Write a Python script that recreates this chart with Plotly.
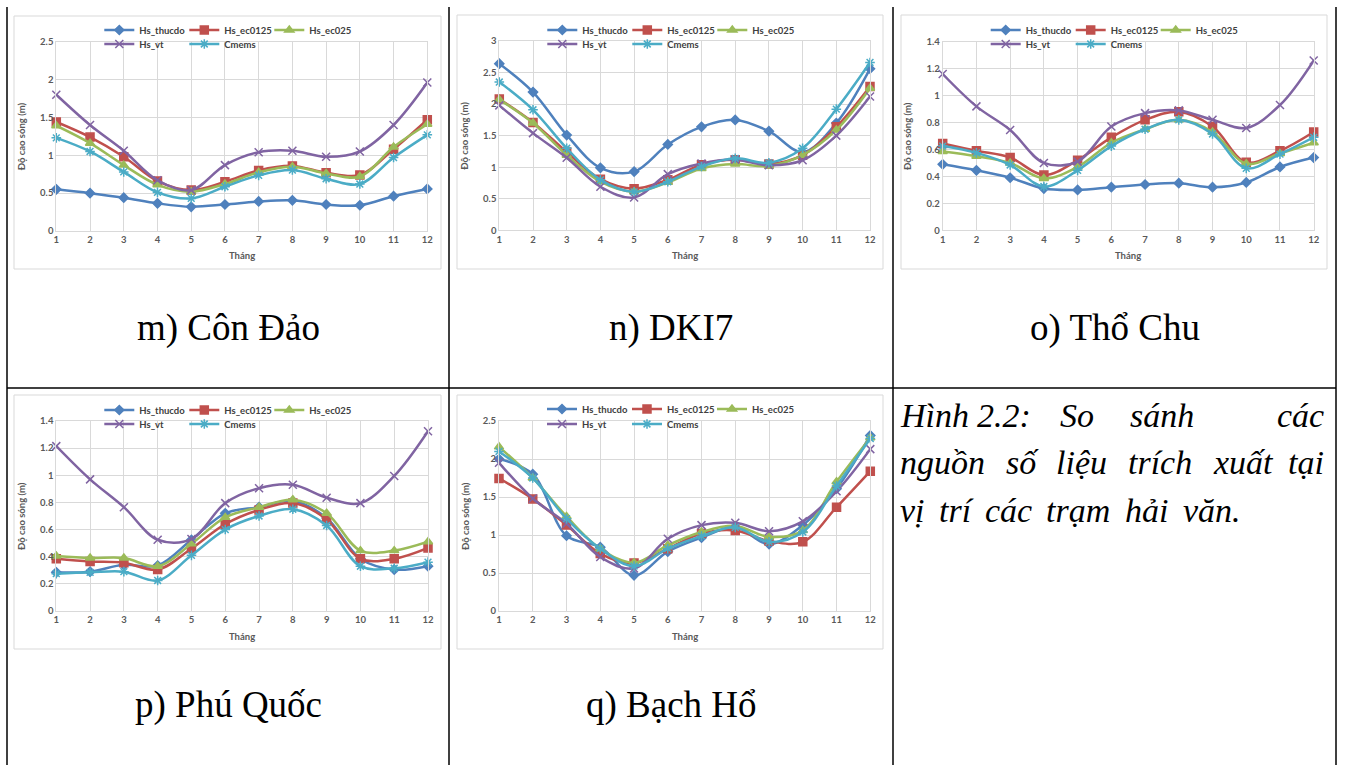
import plotly.graph_objects as go

W, H = 1345, 765

months = list(range(1, 13))
series_names = ["Hs_thucdo", "Hs_ec0125", "Hs_ec025", "Hs_vt", "Cmems"]

# m) Côn Đảo
con_dao_thucdo = [0.55, 0.50, 0.44, 0.365, 0.32, 0.35, 0.39, 0.405, 0.35, 0.34, 0.46, 0.555]
con_dao_ec0125 = [1.44, 1.24, 0.98, 0.66, 0.54, 0.65, 0.80, 0.86, 0.77, 0.74, 1.08, 1.47]
con_dao_ec025 = [1.39, 1.16, 0.87, 0.61, 0.52, 0.62, 0.775, 0.85, 0.76, 0.72, 1.11, 1.41]
con_dao_vt = [1.80, 1.40, 1.06, 0.67, 0.54, 0.87, 1.04, 1.06, 0.98, 1.05, 1.40, 1.96]
con_dao_cmems = [1.23, 1.05, 0.78, 0.51, 0.43, 0.585, 0.735, 0.805, 0.69, 0.62, 0.97, 1.27]

# n) DKI7
dki7_thucdo = [2.64, 2.19, 1.51, 0.99, 0.93, 1.36, 1.64, 1.75, 1.57, 1.24, 1.70, 2.56]
dki7_ec0125 = [2.08, 1.71, 1.24, 0.81, 0.66, 0.80, 1.04, 1.12, 1.05, 1.19, 1.64, 2.28]
dki7_ec025 = [2.07, 1.70, 1.19, 0.77, 0.61, 0.76, 0.98, 1.05, 1.02, 1.19, 1.59, 2.25]
dki7_vt = [1.98, 1.54, 1.15, 0.69, 0.52, 0.89, 1.06, 1.12, 1.03, 1.11, 1.50, 2.12]
dki7_cmems = [2.35, 1.91, 1.30, 0.80, 0.61, 0.77, 1.01, 1.14, 1.07, 1.30, 1.92, 2.66]

# o) Thổ Chu
tho_chu_thucdo = [0.49, 0.445, 0.39, 0.31, 0.30, 0.32, 0.34, 0.35, 0.32, 0.355, 0.47, 0.54]
tho_chu_ec0125 = [0.645, 0.59, 0.54, 0.41, 0.52, 0.69, 0.82, 0.88, 0.77, 0.505, 0.59, 0.73]
tho_chu_ec025 = [0.585, 0.55, 0.50, 0.385, 0.47, 0.65, 0.75, 0.82, 0.73, 0.495, 0.57, 0.65]
tho_chu_vt = [1.16, 0.92, 0.745, 0.50, 0.51, 0.77, 0.87, 0.89, 0.82, 0.76, 0.93, 1.26]
tho_chu_cmems = [0.625, 0.575, 0.485, 0.325, 0.445, 0.625, 0.75, 0.82, 0.715, 0.46, 0.565, 0.69]

# p) Phú Quốc
phu_quoc_thucdo = [0.285, 0.29, 0.34, 0.335, 0.525, 0.72, 0.765, 0.81, 0.685, 0.385, 0.305, 0.33]
phu_quoc_ec0125 = [0.385, 0.365, 0.355, 0.305, 0.46, 0.64, 0.745, 0.795, 0.675, 0.385, 0.385, 0.465]
phu_quoc_ec025 = [0.405, 0.39, 0.39, 0.33, 0.495, 0.69, 0.765, 0.82, 0.72, 0.445, 0.445, 0.51]
phu_quoc_vt = [1.215, 0.97, 0.765, 0.525, 0.53, 0.795, 0.905, 0.93, 0.835, 0.795, 0.995, 1.325]
phu_quoc_cmems = [0.275, 0.285, 0.29, 0.225, 0.41, 0.60, 0.70, 0.75, 0.63, 0.33, 0.315, 0.36]

# q) Bạch Hổ
bach_ho_thucdo = [2.00, 1.80, 0.99, 0.84, 0.47, 0.78, 0.965, 1.105, 0.88, 1.13, 1.61, 2.31]
bach_ho_ec0125 = [1.745, 1.475, 1.13, 0.755, 0.63, 0.82, 1.02, 1.06, 0.92, 0.91, 1.365, 1.84]
bach_ho_ec025 = [2.16, 1.75, 1.245, 0.82, 0.635, 0.865, 1.04, 1.12, 0.975, 1.06, 1.70, 2.28]
bach_ho_vt = [1.95, 1.48, 1.15, 0.71, 0.56, 0.95, 1.13, 1.16, 1.05, 1.18, 1.575, 2.13]
bach_ho_cmems = [2.10, 1.75, 1.215, 0.82, 0.59, 0.82, 0.985, 1.10, 0.91, 1.04, 1.645, 2.27]

captions = ["m) Côn Đảo", "n) DKI7", "o) Thổ Chu", "p) Phú Quốc", "q) Bạch Hổ"]
y_title = "Độ cao sóng (m)"
x_title = "Tháng"
figure_caption_lines = [
    ["Hình", "2.2:", "So", "sánh", "các"],
    ["nguồn", "số", "liệu", "trích", "xuất", "tại"],
    ["vị", "trí", "các", "trạm", "hải", "văn."],
]

station_data = [
    [con_dao_thucdo, con_dao_ec0125, con_dao_ec025, con_dao_vt, con_dao_cmems],
    [dki7_thucdo, dki7_ec0125, dki7_ec025, dki7_vt, dki7_cmems],
    [tho_chu_thucdo, tho_chu_ec0125, tho_chu_ec025, tho_chu_vt, tho_chu_cmems],
    [phu_quoc_thucdo, phu_quoc_ec0125, phu_quoc_ec025, phu_quoc_vt, phu_quoc_cmems],
    [bach_ho_thucdo, bach_ho_ec0125, bach_ho_ec025, bach_ho_vt, bach_ho_cmems],
]

# ---------------- styling / geometry (pixels) ----------------
styles = {
    "Hs_thucdo": dict(color="#4F81BD", symbol="diamond", size=7),
    "Hs_ec0125": dict(color="#C0504D", symbol="square", size=8),
    "Hs_ec025": dict(color="#9BBB59", symbol="triangle-up", size=8),
    "Hs_vt": dict(color="#8064A2", symbol="x-thin-open", size=8),
    "Cmems": dict(color="#4BACC6", symbol="asterisk-open", size=8),
}

panels = [
    dict(plot=(56.3, 41.7, 427.3, 231.0), frame=(14, 16, 441, 269), ymax=2.5, dtick=0.5,
         ytx=21, leg=(30, 44), cap=(228, 328)),
    dict(plot=(499.3, 41.0, 870.0, 230.3), frame=(457, 15, 883, 269), ymax=3.0, dtick=0.5,
         ytx=465, leg=(30, 44), cap=(671, 328)),
    dict(plot=(942.7, 41.7, 1313.7, 230.3), frame=(901, 15, 1327, 269), ymax=1.4, dtick=0.2,
         ytx=907, leg=(30, 44), cap=(1114.5, 328)),
    dict(plot=(56.3, 421.0, 428.0, 611.0), frame=(14, 395, 441, 649), ymax=1.4, dtick=0.2,
         ytx=21, leg=(410, 424), cap=(228, 705)),
    dict(plot=(499.0, 421.0, 870.3, 611.0), frame=(457, 395, 883, 649), ymax=2.5, dtick=0.5,
         ytx=465, leg=(409, 424), cap=(671, 705)),
]


def fx(px):
    return px / W


def fy(py):
    return 1 - py / H


SMALL = dict(family="Lato, Open Sans, sans-serif", size=9.5, color="#595959", weight="bold")
GRID = "#D9D9D9"

fig = go.Figure()
layout = dict(
    width=W, height=H, margin=dict(l=0, r=0, t=0, b=0, autoexpand=False),
    paper_bgcolor="white", plot_bgcolor="white", showlegend=True,
)
shapes = []
annotations = []

for i, (p, data) in enumerate(zip(panels, station_data)):
    n = i + 1
    xa = "x" if n == 1 else f"x{n}"
    ya = "y" if n == 1 else f"y{n}"
    x0, y0, x1, y1 = p["plot"]
    layout[f"xaxis{'' if n == 1 else n}"] = dict(
        domain=[fx(x0), fx(x1)], anchor=ya, range=[1, 12], tickmode="linear", tick0=1, dtick=1,
        showgrid=True, gridcolor=GRID, gridwidth=1, showline=True, linecolor=GRID, mirror=True,
        zeroline=False, ticks="", tickfont=SMALL, fixedrange=True,
    )
    layout[f"yaxis{'' if n == 1 else n}"] = dict(
        domain=[fy(y1), fy(y0)], anchor=xa, range=[0, p["ymax"]], tickmode="linear", tick0=0,
        dtick=p["dtick"], showgrid=True, gridcolor=GRID, gridwidth=1, showline=True,
        linecolor=GRID, mirror=True, zeroline=False, ticks="", tickfont=SMALL, fixedrange=True,
    )
    leg1 = "legend" if i == 0 else f"legend{2 * i + 1}"
    leg2 = f"legend{2 * i + 2}"
    for k, (name, vals) in enumerate(zip(series_names, data)):
        st = styles[name]
        fig.add_trace(go.Scatter(
            x=months, y=vals, name=name, mode="lines+markers", xaxis=xa, yaxis=ya,
            line=dict(color=st["color"], width=2.5, shape="spline", smoothing=1.0),
            marker=dict(symbol=st["symbol"], size=st["size"], color=st["color"],
                        line=dict(color=st["color"], width=1.5)),
            cliponaxis=False, legend=leg1 if k < 3 else leg2, showlegend=True,
        ))
    for lg, ly in ((leg1, p["leg"][0]), (leg2, p["leg"][1])):
        layout[lg] = dict(
            orientation="h", x=fx(x0 + 43), xanchor="left", y=fy(ly), yanchor="middle",
            font=dict(family="Lato, Open Sans, sans-serif", size=9.5, color="#404040",
                      weight="bold"),
            bgcolor="rgba(0,0,0,0)", borderwidth=0, itemwidth=30, entrywidth=40,
            traceorder="normal", tracegroupgap=0,
        )
    # chart frame
    fx0, fy0, fx1, fy1 = p["frame"]
    shapes.append(dict(type="rect", xref="paper", yref="paper", x0=fx(fx0), x1=fx(fx1),
                       y0=fy(fy1), y1=fy(fy0), line=dict(color=GRID, width=1), layer="below"))
    # axis titles
    annotations.append(dict(text=y_title, xref="paper", yref="paper", x=fx(p["ytx"]),
                            y=fy((y0 + y1) / 2), textangle=-90, showarrow=False, font=SMALL,
                            xanchor="center", yanchor="middle"))
    annotations.append(dict(text=x_title, xref="paper", yref="paper", x=fx((x0 + x1) / 2),
                            y=fy(y1 + 25), showarrow=False, font=SMALL,
                            xanchor="center", yanchor="middle"))
    # caption
    annotations.append(dict(text=captions[i], xref="paper", yref="paper", x=fx(p["cap"][0]),
                            y=fy(p["cap"][1]), showarrow=False,
                            font=dict(family="Liberation Serif, Times New Roman, serif", size=37,
                                      color="black"),
                            xanchor="center", yanchor="middle"))

# table lines
for vx in (7, 449, 893, 1336):
    shapes.append(dict(type="line", xref="paper", yref="paper", x0=fx(vx), x1=fx(vx),
                       y0=fy(7), y1=fy(765), line=dict(color="black", width=1.5)))
shapes.append(dict(type="line", xref="paper", yref="paper", x0=fx(7), x1=fx(1336),
                   y0=fy(388), y1=fy(388), line=dict(color="black", width=1.5)))

# justified italic figure caption (word by word)
cap_font = dict(family="Liberation Serif, Times New Roman, serif", size=34, color="black",
                style="italic")
word_x = [
    [898, 975, 1058, 1128, None],
    [898, 1003.6, 1054.4, 1126, 1210.8, None],
    [898, 936.7, 983, 1044.4, 1122.8, 1180.5],
]
line_y = [416, 463, 511]
for words, xs, ly in zip(figure_caption_lines, word_x, line_y):
    for w, wx in zip(words, xs):
        if wx is None:
            annotations.append(dict(text=w, xref="paper", yref="paper", x=fx(1326), y=fy(ly),
                                    xanchor="right", yanchor="middle", showarrow=False,
                                    font=cap_font))
        else:
            annotations.append(dict(text=w, xref="paper", yref="paper", x=fx(wx), y=fy(ly),
                                    xanchor="left", yanchor="middle", showarrow=False,
                                    font=cap_font))

layout["shapes"] = shapes
layout["annotations"] = annotations
fig.update_layout(**layout)

fig.write_html(
    "out.html",
    config={"displayModeBar": False},
    post_script=(
        "document.body.style.margin='0px';document.body.style.padding='0px';"
        "document.body.style.overflow='hidden';"
        "document.documentElement.style.overflow='hidden';"
    ),
)
